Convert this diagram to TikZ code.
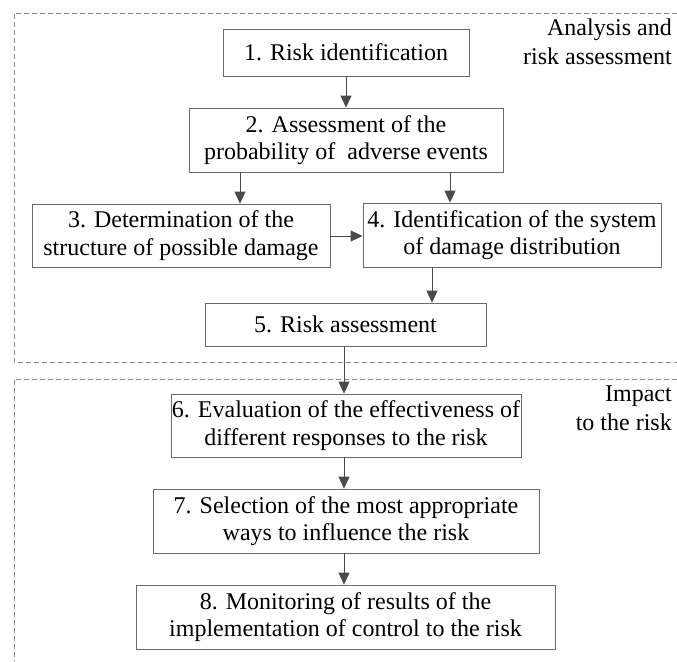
\documentclass[tikz,border=0pt]{standalone}
\usepackage{fontspec}
\setmainfont{Liberation Serif}
\usetikzlibrary{arrows.meta}
\definecolor{boxline}{HTML}{6A6A6A}
\definecolor{arrowc}{HTML}{4A4A4A}
\definecolor{dashc}{HTML}{8A8A8A}
\begin{document}
\begin{tikzpicture}[x=1pt,y=-1pt,
  stepbox/.style={draw=boxline, line width=0.8pt, align=center, inner sep=0pt,
    font=\fontsize{24}{27.5}\selectfont},
  flow/.style={draw=arrowc, line width=0.9pt, -{Triangle[width=11pt,length=12pt]}, fill=arrowc},
  region/.style={draw=dashc, line width=0.8pt, dash pattern=on 5pt off 3pt},
  lbl/.style={align=right, anchor=north east, inner sep=0pt, font=\fontsize{24}{29}\selectfont}]
\useasboundingbox (0,0) rectangle (677,661);
% regions
\draw[region] (677,13) -- (14,13) -- (14,362) -- (677,362);
\draw[region] (677,379) -- (14,379) -- (14,661);
\node[lbl] (lab1) at (672,19) {Analysis and\\risk assessment};
\node[lbl] (lab2) at (672,386) {Impact\\to the risk};
% boxes
\node[stepbox, minimum width=246pt, minimum height=47pt] (b1) at (346,52.5) {1. Risk identification};
\node[stepbox, minimum width=314pt, minimum height=64pt] (b2) at (346,140) {2. Assessment of the\\probability of\ \ adverse events};
\node[stepbox, minimum width=298pt, minimum height=63pt] (b3) at (181,235.5) {3. Determination of the\\structure of possible damage};
\node[stepbox, minimum width=298pt, minimum height=64pt] (b4) at (512,235) {4. Identification of the system\\of damage distribution};
\node[stepbox, minimum width=281pt, minimum height=43pt] (b5) at (345.5,324.5) {5. Risk assessment};
\node[stepbox, minimum width=350pt, minimum height=63pt] (b6) at (346,425.5) {6. Evaluation of the effectiveness of\\different responses to the risk};
\node[stepbox, minimum width=386pt, minimum height=64pt] (b7) at (346,521) {7. Selection of the most appropriate\\ways to influence the risk};
\node[stepbox, minimum width=419pt, minimum height=64pt] (b8) at (345.5,617) {8. Monitoring of results of the\\implementation of control to the risk};
% connectors
\draw[flow] (b1.south) -- (b2.north);
\draw[flow] (b2.south -| 240,0) -- (b3.north -| 240,0);
\draw[flow] (b2.south -| 450,0) -- (b4.north -| 450,0);
\draw[flow] (b3.east |- 0,236) -- (b4.west |- 0,236);
\draw[flow] (b4.south -| 432,0) -- (b5.north -| 432,0);
\draw[flow] (b5.south -| 344,0) -- (b6.north -| 344,0);
\draw[flow] (b6.south -| 344,0) -- (b7.north -| 344,0);
\draw[flow] (b7.south -| 344,0) -- (b8.north -| 344,0);
\end{tikzpicture}
\end{document}
